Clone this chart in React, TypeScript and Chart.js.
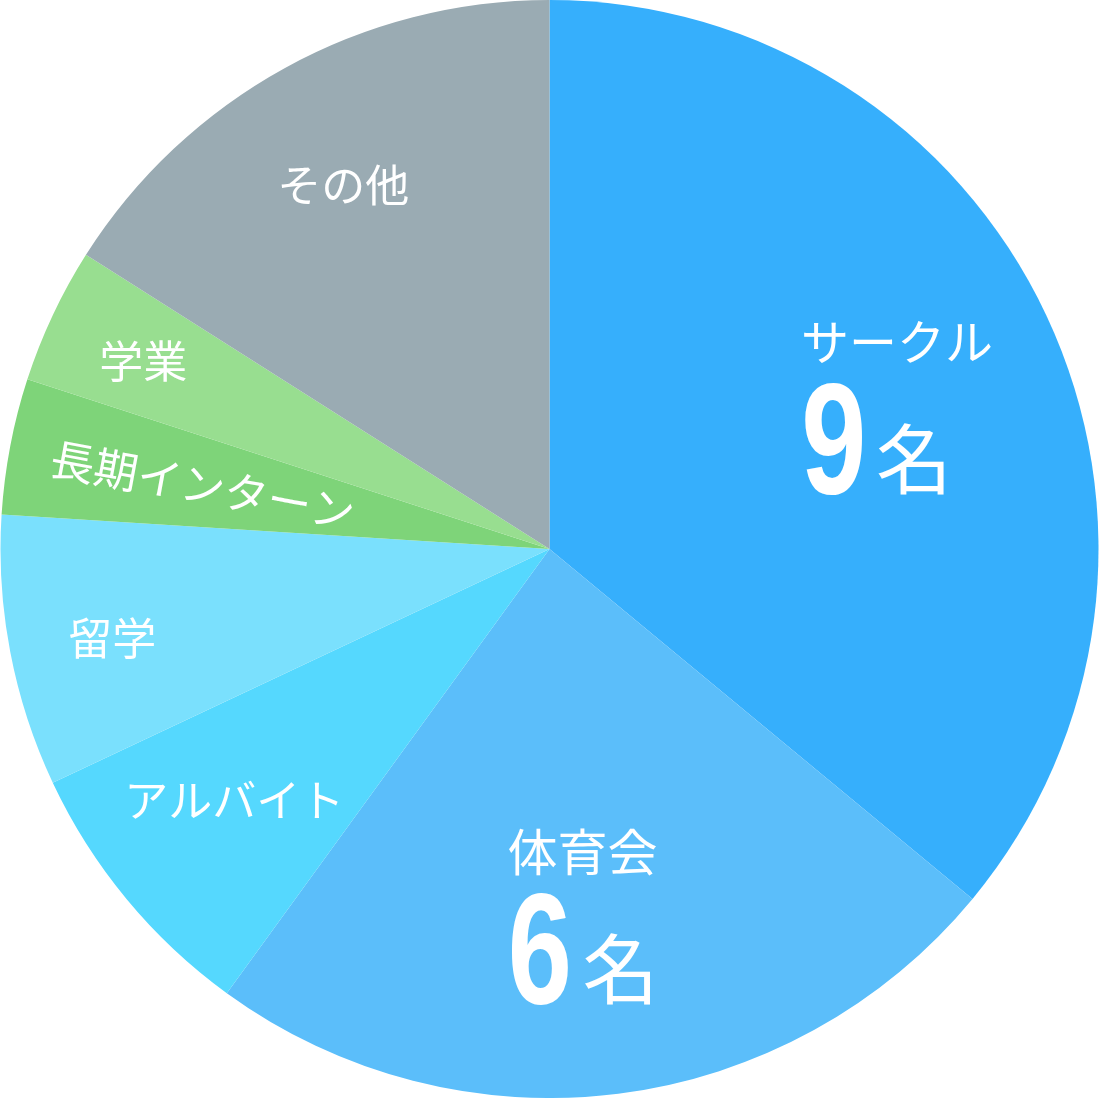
import Chart from "chart.js/auto";
import React, { useEffect, useRef } from "react";

const categories = ["サークル", "体育会", "アルバイト", "留学", "長期インターン", "学業", "その他"];
const counts = [9, 6, 2, 2, 1, 1, 4];
const colors = ["#36AFFC", "#5BBEFA", "#55D8FE", "#7AE0FD", "#7ED479", "#98DE90", "#9AABB3"];
// which slices show the "N名" line
const showCount = [true, true, false, false, false, false, false];

// label placement: fraction of radius, angle shift (deg), font size, rotate along slice
const labelR = [0.737, 0.555, 0.734, 0.813, 0.642, 0.815, 0.761];
const labelShift = [-5.6, 1.0, 1.1, -0.8, -0.4, -0.4, -0.8];
const labelSize = [48, 50, 44, 44, 44, 44, 44];
const labelRotate = [false, false, false, false, true, false, false];

const JP = '"Noto Sans CJK JP", "Noto Sans", sans-serif';

const labelPlugin = {
  id: "sliceLabels",
  afterDatasetsDraw(chart: any) {
    const ctx = chart.ctx;
    const meta = chart.getDatasetMeta(0);
    meta.data.forEach((arc: any, i: number) => {
      const { x, y, startAngle, endAngle, outerRadius } = arc.getProps(
        ["x", "y", "startAngle", "endAngle", "outerRadius"],
        true
      );
      const mid = (startAngle + endAngle) / 2 + (labelShift[i] * Math.PI) / 180;
      const r = outerRadius * labelR[i];
      const cx = x + Math.cos(mid) * r;
      const cy = y + Math.sin(mid) * r;

      ctx.save();
      ctx.fillStyle = "#ffffff";
      ctx.font = `400 ${labelSize[i]}px ${JP}`;
      ctx.textAlign = "center";
      ctx.textBaseline = "middle";
      ctx.translate(cx, cy);
      if (labelRotate[i]) ctx.rotate(mid + Math.PI);
      ctx.fillText(categories[i], 0, 0);

      if (showCount[i]) {
        const nameW = ctx.measureText(categories[i]).width;
        const left = -nameW / 2 + 4;
        const bottom = 153;
        // big condensed digit, fitted to the reference glyph box
        ctx.textAlign = "left";
        ctx.textBaseline = "alphabetic";
        ctx.font = `700 156px "Liberation Sans Narrow", "Liberation Sans", Roboto, sans-serif`;
        const num = String(counts[i]);
        const m = ctx.measureText(num);
        const inkW = m.actualBoundingBoxLeft + m.actualBoundingBoxRight;
        const inkH = m.actualBoundingBoxAscent + m.actualBoundingBoxDescent;
        const sy = 112 / inkH;
        const sx = 57 / inkW;
        ctx.save();
        ctx.translate(left, bottom);
        ctx.scale(sx, sy);
        ctx.fillText(num, m.actualBoundingBoxLeft, -m.actualBoundingBoxDescent);
        ctx.restore();
        const digitRight = left + inkW * sx;
        ctx.font = `400 76px ${JP}`;
        const m2 = ctx.measureText("名");
        ctx.fillText("名", digitRight + 16 + m2.actualBoundingBoxLeft, bottom - m2.actualBoundingBoxDescent);
      }
      ctx.restore();
    });
  },
};

export default function App() {
  const chartRef = useRef<HTMLCanvasElement | null>(null);

  useEffect(() => {
    let chartInstance: Chart | null = null;
    if (chartRef.current) {
      // @ts-ignore
      chartInstance = new Chart(chartRef.current, {
        type: "pie",
        data: {
          labels: categories,
          datasets: [
            {
              data: counts,
              backgroundColor: colors,
              borderWidth: 0,
            },
          ],
        },
        options: {
          responsive: false,
          animation: false,
          layout: { padding: 0 },
          plugins: {
            legend: { display: false },
            tooltip: { enabled: false },
          },
        },
        plugins: [labelPlugin],
      });
    }
    return () => {
      if (chartInstance) chartInstance.destroy();
    };
  }, []);

  return (
    <div style={{ position: "absolute", left: 0, top: 0, width: 1099, height: 1098, background: "#fff" }}>
      <canvas ref={chartRef} width={1099} height={1098} />
    </div>
  );
}
